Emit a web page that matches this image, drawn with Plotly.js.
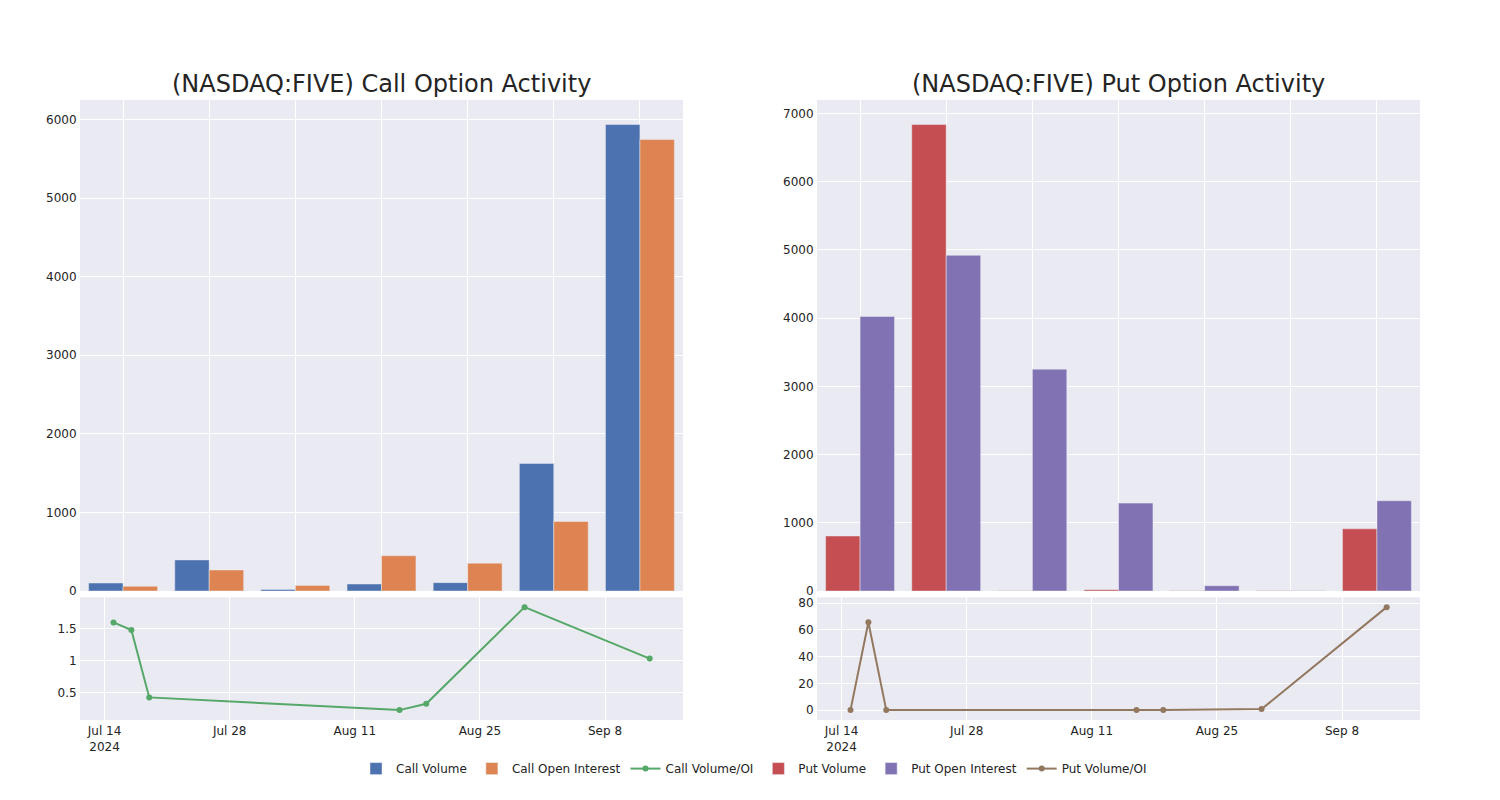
<!DOCTYPE html>
<html>
<head>
<meta charset="utf-8">
<script src="https://cdn.plot.ly/plotly-3.0.1.min.js"></script>
<style>html,body{margin:0;padding:0;background:#fff}#chart{width:1500px;height:800px}</style>
</head>
<body>
<div id="chart"></div>
<script>
// Bar groups (categorical, hidden tick labels)
const barGroups = ["G1", "G2", "G3", "G4", "G5", "G6", "G7"];
const callVolume = [102, 396, 21, 90, 107, 1624, 5936];
const callOpenInterest = [60, 268, 72, 449, 355, 885, 5745];
const putVolume = [807, 6839, 5, 20, 5, 3, 912];
const putOpenInterest = [4026, 4922, 3253, 1289, 78, 3, 1324];

// Volume/OI ratio series (date axis)
const ratioDates = ["2024-07-15", "2024-07-17", "2024-07-19", "2024-08-16", "2024-08-19", "2024-08-30", "2024-09-13"];
const callRatio = [1.60, 1.48, 0.42, 0.22, 0.32, 1.84, 1.03];
const putRatio = [0, 65.7, 0, 0, 0, 0.75, 77];

const titles = ["(NASDAQ:FIVE) Call Option Activity", "(NASDAQ:FIVE) Put Option Activity"];
const seriesNames = ["Call Volume", "Call Open Interest", "Call Volume/OI", "Put Volume", "Put Open Interest", "Put Volume/OI"];

const colors = {
  blue: "rgb(76,114,176)", orange: "rgb(221,132,82)", green: "rgb(85,168,104)",
  red: "rgb(196,78,82)", purple: "rgb(129,114,179)", brown: "rgb(147,120,96)"
};
const barLine = {color: "rgb(234,234,242)", width: 0.5};

const traces = [
  {type: "bar", name: seriesNames[0], x: barGroups, y: callVolume, xaxis: "x", yaxis: "y",
   marker: {color: colors.blue, line: barLine}},
  {type: "bar", name: seriesNames[1], x: barGroups, y: callOpenInterest, xaxis: "x", yaxis: "y",
   marker: {color: colors.orange, line: barLine}},
  {type: "scatter", mode: "lines+markers", name: seriesNames[2], x: ratioDates, y: callRatio, xaxis: "x3", yaxis: "y3",
   line: {color: colors.green, width: 2}, marker: {color: colors.green, size: 6}},
  {type: "bar", name: seriesNames[3], x: barGroups, y: putVolume, xaxis: "x2", yaxis: "y2",
   marker: {color: colors.red, line: barLine}},
  {type: "bar", name: seriesNames[4], x: barGroups, y: putOpenInterest, xaxis: "x2", yaxis: "y2",
   marker: {color: colors.purple, line: barLine}},
  {type: "scatter", mode: "lines+markers", name: seriesNames[5], x: ratioDates, y: putRatio, xaxis: "x4", yaxis: "y4",
   line: {color: colors.brown, width: 2}, marker: {color: colors.brown, size: 6}}
];

const axBase = {
  gridcolor: "white", linecolor: "white", zerolinecolor: "white", showgrid: true,
  ticks: "", tickfont: {family: "DejaVu Sans", size: 12, color: "rgb(36,36,36)"}
};
const dateRange = ["2024-07-11 06:00", "2024-09-16 17:30"];

const layout = {
  width: 1500, height: 800,
  margin: {l: 80, r: 80, t: 100, b: 80},
  paper_bgcolor: "white", plot_bgcolor: "rgb(234,234,242)",
  font: {family: "DejaVu Sans", size: 12, color: "rgb(36,36,36)"},
  barmode: "group", bargap: 0.2, bargroupgap: 0,
  showlegend: true,
  legend: {orientation: "h", x: 0.503, xanchor: "center", y: -0.055, yanchor: "top",
           font: {family: "DejaVu Sans", size: 12, color: "rgb(36,36,36)"}},
  xaxis: Object.assign({}, axBase, {domain: [0, 0.45], anchor: "y", type: "category", showticklabels: false}),
  yaxis: Object.assign({}, axBase, {domain: [0.208, 1], anchor: "x"}),
  xaxis2: Object.assign({}, axBase, {domain: [0.55, 1], anchor: "y2", type: "category", showticklabels: false}),
  yaxis2: Object.assign({}, axBase, {domain: [0.208, 1], anchor: "x2"}),
  xaxis3: Object.assign({}, axBase, {domain: [0, 0.45], anchor: "y3", type: "date", range: dateRange,
           tick0: "2024-07-14", dtick: 14 * 86400000}),
  yaxis3: Object.assign({}, axBase, {domain: [0, 0.198], anchor: "x3"}),
  xaxis4: Object.assign({}, axBase, {domain: [0.55, 1], anchor: "y4", type: "date", range: dateRange,
           tick0: "2024-07-14", dtick: 14 * 86400000}),
  yaxis4: Object.assign({}, axBase, {domain: [0, 0.198], anchor: "x4"}),
  annotations: [
    {text: titles[0], xref: "paper", yref: "paper", x: 0.225, y: 1, xanchor: "center", yanchor: "bottom",
     showarrow: false, font: {family: "DejaVu Sans", size: 24, color: "rgb(36,36,36)"}},
    {text: titles[1], xref: "paper", yref: "paper", x: 0.775, y: 1, xanchor: "center", yanchor: "bottom",
     showarrow: false, font: {family: "DejaVu Sans", size: 24, color: "rgb(36,36,36)"}}
  ]
};

Plotly.newPlot("chart", traces, layout, {displayModeBar: false});
</script>
</body>
</html>
